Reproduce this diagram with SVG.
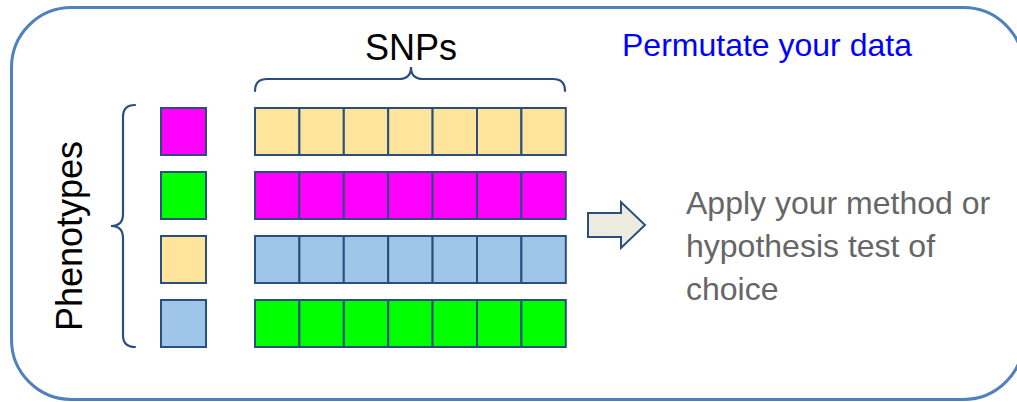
<svg xmlns="http://www.w3.org/2000/svg" width="1017" height="402" viewBox="0 0 1017 402">
  <style>
    .frame { fill: #ffffff; stroke: #4f81bd; stroke-width: 3; }
    .cell { stroke: #2a4f7f; stroke-width: 2; }
    .brace { fill: none; stroke: #2a4f7f; stroke-width: 2.2; stroke-linecap: round; }
    .mag { fill: #ff00ff; }
    .grn { fill: #00ff00; }
    .tan { fill: #ffe59b; }
    .blu { fill: #9fc5e8; }
    .lbl { font-family: "Liberation Sans", Arial, sans-serif; font-size: 36px; fill: #000000; }
    .title { font-family: "Liberation Sans", Arial, sans-serif; font-size: 32px; fill: #0000ff; }
    .note { font-family: "Liberation Sans", Arial, sans-serif; font-size: 32px; fill: #666666; }
    .arrow { fill: #eeece1; stroke: #2a4f7f; stroke-width: 2; stroke-linejoin: miter; }
  </style>
  <defs>
    <!-- one row of seven SNP cells -->
    <g id="snp-row-cells">
      <rect class="cell" x="255" y="0" width="44.4" height="47"/>
      <rect class="cell" x="299.4" y="0" width="44.4" height="47"/>
      <rect class="cell" x="343.8" y="0" width="44.4" height="47"/>
      <rect class="cell" x="388.2" y="0" width="44.4" height="47"/>
      <rect class="cell" x="432.6" y="0" width="44.4" height="47"/>
      <rect class="cell" x="477" y="0" width="44.4" height="47"/>
      <rect class="cell" x="521.4" y="0" width="44.4" height="47"/>
    </g>
  </defs>

  <!-- outer rounded frame -->
  <rect class="frame" x="11.5" y="7.5" width="1012" height="392" rx="60" ry="60"/>

  <!-- labels -->
  <g id="label-snps"><text class="lbl" x="411" y="60" text-anchor="middle">SNPs</text></g>
  <g id="label-phenotypes"><text class="lbl" transform="translate(82,236) rotate(-90)" text-anchor="middle">Phenotypes</text></g>
  <g id="label-permutate"><text class="title" x="622" y="56">Permutate your data</text></g>

  <!-- braces -->
  <g id="brace-snps">
    <path class="brace" d="M255,91 Q255,79 267,79 L399,79 Q411,79 411,67 Q411,79 423,79 L553,79 Q565,79 565,91"/>
  </g>
  <g id="brace-phenotypes">
    <path class="brace" d="M135,105 Q123,105 123,117 L123,214 Q123,226 111,226 Q123,226 123,238 L123,335 Q123,347 135,347"/>
  </g>

  <!-- phenotype squares -->
  <g id="phenotype-1"><rect class="cell mag" x="161" y="108" width="45" height="47"/></g>
  <g id="phenotype-2"><rect class="cell grn" x="161" y="172" width="45" height="47"/></g>
  <g id="phenotype-3"><rect class="cell tan" x="161" y="236" width="45" height="47"/></g>
  <g id="phenotype-4"><rect class="cell blu" x="161" y="300" width="45" height="47"/></g>

  <!-- SNP rows -->
  <g id="snp-row-1" class="tan"><use href="#snp-row-cells" y="108"/></g>
  <g id="snp-row-2" class="mag"><use href="#snp-row-cells" y="172"/></g>
  <g id="snp-row-3" class="blu"><use href="#snp-row-cells" y="236"/></g>
  <g id="snp-row-4" class="grn"><use href="#snp-row-cells" y="300"/></g>

  <!-- block arrow -->
  <g id="connectors">
    <path class="arrow" d="M588,213 L621,213 L621,202 L645,225 L621,248 L621,237 L588,237 Z"/>
  </g>

  <!-- method note -->
  <g id="method-note">
    <text class="note" x="686" y="214">Apply your method or</text>
    <text class="note" x="686" y="257">hypothesis test of</text>
    <text class="note" x="686" y="300">choice</text>
  </g>
</svg>
